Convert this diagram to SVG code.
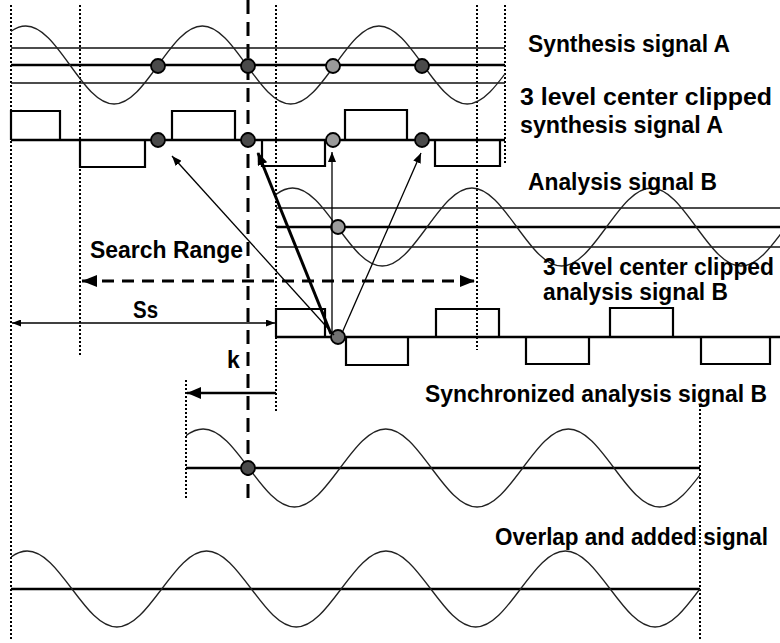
<svg xmlns="http://www.w3.org/2000/svg" width="780" height="643" viewBox="0 0 780 643">
<style>
.sine{fill:none;stroke:#222;stroke-width:1.3}
.ref{fill:none;stroke:#111;stroke-width:1.6}
.ctr{fill:none;stroke:#000;stroke-width:2.6}
.sq{fill:none;stroke:#000;stroke-width:2.2}
.dot{fill:none;stroke:#000;stroke-width:2;stroke-dasharray:2 2}
.dash{fill:none;stroke:#000;stroke-width:3;stroke-dasharray:14 8}
.pt{stroke:#000;stroke-width:1.8}
.dk{fill:#4a4a4a}
.lt{fill:#9a9a9a}
.md{fill:#707070}
.lbl{font-family:"Liberation Sans",Arial,Helvetica,sans-serif;font-weight:bold;font-size:23px;fill:#000}
.thin{fill:none;stroke:#000;stroke-width:1.3}
</style>
<defs>
<clipPath id="cA"><rect x="11" y="0" width="494" height="140"/></clipPath>
<clipPath id="cB"><rect x="276" y="150" width="504" height="140"/></clipPath>
<clipPath id="cS"><rect x="186" y="410" width="514" height="110"/></clipPath>
<clipPath id="cO"><rect x="11" y="530" width="689" height="110"/></clipPath>
<marker id="ah" viewBox="0 0 10 8" markerWidth="10" markerHeight="8" refX="10" refY="4" orient="auto" markerUnits="userSpaceOnUse"><path d="M0,0L10,4L0,8z" fill="#000"/></marker>
<marker id="ahT" viewBox="0 0 13 10" markerWidth="13" markerHeight="10" refX="12" refY="5" orient="auto" markerUnits="userSpaceOnUse"><path d="M0,0L13,5L0,10z" fill="#000"/></marker>
<marker id="ahS" viewBox="0 0 9 7" markerWidth="9" markerHeight="7" refX="9" refY="3.5" orient="auto-start-reverse" markerUnits="userSpaceOnUse"><path d="M0,0L9,3.5L0,7z" fill="#000"/></marker>
<marker id="ahB" viewBox="0 0 15 12" markerWidth="15" markerHeight="12" refX="15" refY="6" orient="auto-start-reverse" markerUnits="userSpaceOnUse"><path d="M0,0L15,6L0,12z" fill="#000"/></marker>
<marker id="ahK" viewBox="0 0 14 12" markerWidth="14" markerHeight="12" refX="14" refY="6" orient="auto" markerUnits="userSpaceOnUse"><path d="M0,0L14,6L0,12z" fill="#000"/></marker>
</defs>
<rect width="780" height="643" fill="#fff"/>

<g id="guides">
<line class="dot" x1="11" y1="5" x2="11" y2="640"/>
<line class="dot" x1="80" y1="5" x2="80" y2="355"/>
<line class="dot" x1="276" y1="5" x2="276" y2="412"/>
<line class="dot" x1="477" y1="5" x2="477" y2="350"/>
<line class="dot" x1="505" y1="5" x2="505" y2="165"/>
<line class="dot" x1="186" y1="380" x2="186" y2="500"/>
<line class="dot" x1="700" y1="405" x2="700" y2="640"/>
<line class="dash" x1="248" y1="0" x2="248" y2="505"/>
</g>

<g id="synthesis-signal-A">
<line class="ref" x1="11" y1="48" x2="505" y2="48"/>
<line class="ctr" x1="11" y1="65" x2="505" y2="65"/>
<line class="ref" x1="11" y1="83" x2="505" y2="83"/>
<path class="sine" clip-path="url(#cA)" d="M-18.4,65 c14.4,-20 28.17,-39 44.15,-39 c15.98,0 29.75,19 44.15,39 c14.4,20 28.17,39 44.15,39 c15.98,0 29.75,-19 44.15,-39 c14.4,-20 28.17,-39 44.15,-39 c15.98,0 29.75,19 44.15,39 c14.4,20 28.17,39 44.15,39 c15.98,0 29.75,-19 44.15,-39 c14.4,-20 28.17,-39 44.15,-39 c15.98,0 29.75,19 44.15,39 c14.4,20 28.17,39 44.15,39 c15.98,0 29.75,-19 44.15,-39"/>
<circle class="pt dk" cx="158" cy="66" r="7"/>
<circle class="pt dk" cx="248" cy="66" r="7"/>
<circle class="pt lt" cx="333" cy="66" r="7"/>
<circle class="pt dk" cx="422" cy="66" r="7"/>
</g>

<g id="clipped-A">
<line class="ctr" x1="11" y1="140" x2="505" y2="140"/>
<path class="sq" d="M11,140V111H60V140 M80,140V167H145V140 M172,140V111H235V140 M262,140V166H325V140 M345,140V110H407V140 M435,140V166H500V140"/>
<circle class="pt dk" cx="158" cy="140" r="7"/>
<circle class="pt dk" cx="248" cy="140" r="7"/>
<circle class="pt lt" cx="333" cy="140" r="7"/>
<circle class="pt dk" cx="422" cy="140" r="7"/>
</g>

<g id="analysis-signal-B">
<line class="ref" x1="276" y1="208" x2="780" y2="208"/>
<line class="ctr" x1="276" y1="227" x2="780" y2="227"/>
<line class="ref" x1="276" y1="247" x2="780" y2="247"/>
<path class="sine" clip-path="url(#cB)" d="M247.7,227 c14.63,-20 28.62,-39 44.85,-39 c16.23,0 30.22,19 44.85,39 c14.63,20 28.62,39 44.85,39 c16.23,0 30.22,-19 44.85,-39 c14.63,-20 28.62,-39 44.85,-39 c16.23,0 30.22,19 44.85,39 c14.63,20 28.62,39 44.85,39 c16.23,0 30.22,-19 44.85,-39 c14.63,-20 28.62,-39 44.85,-39 c16.23,0 30.22,19 44.85,39 c14.63,20 28.62,39 44.85,39 c16.23,0 30.22,-19 44.85,-39"/>
<circle class="pt lt" cx="338" cy="227" r="7"/>
</g>

<g id="clipped-B">
<line class="ctr" x1="276" y1="337" x2="780" y2="337"/>
<path class="sq" d="M276,337V309H325V337 M346,337V365H408V337 M436,337V309H499V337 M526,337V364H589V337 M610,337V308H673V337 M701,337V364H770V337"/>
<circle class="pt md" cx="338" cy="337" r="7"/>
</g>

<g id="synchronized-B">
<line class="ctr" x1="186" y1="468" x2="700" y2="468"/>
<path class="sine" clip-path="url(#cS)" d="M157.5,468 c14.89,-20 29.13,-39 45.65,-39 c16.52,0 30.76,19 45.65,39 c14.89,20 29.13,39 45.65,39 c16.52,0 30.76,-19 45.65,-39 c14.89,-20 29.13,-39 45.65,-39 c16.52,0 30.76,19 45.65,39 c14.89,20 29.13,39 45.65,39 c16.52,0 30.76,-19 45.65,-39 c14.89,-20 29.13,-39 45.65,-39 c16.52,0 30.76,19 45.65,39 c14.89,20 29.13,39 45.65,39 c16.52,0 30.76,-19 45.65,-39"/>
<circle class="pt dk" cx="248" cy="468" r="7"/>
</g>

<g id="overlap-added">
<line class="ctr" x1="11" y1="589" x2="700" y2="589"/>
<path class="sine" clip-path="url(#cO)" d="M-17.7,589 c14.63,-19.47 28.62,-38 44.85,-38 c16.23,0 30.22,18.53 44.85,38 c14.63,19.47 28.62,38 44.85,38 c16.23,0 30.22,-18.53 44.85,-38 c14.63,-19.47 28.62,-38 44.85,-38 c16.23,0 30.22,18.53 44.85,38 c14.63,19.47 28.62,38 44.85,38 c16.23,0 30.22,-18.53 44.85,-38 c14.63,-19.47 28.62,-38 44.85,-38 c16.23,0 30.22,18.53 44.85,38 c14.63,19.47 28.62,38 44.85,38 c16.23,0 30.22,-18.53 44.85,-38 c14.63,-19.47 28.62,-38 44.85,-38 c16.23,0 30.22,18.53 44.85,38 c14.63,19.47 28.62,38 44.85,38 c16.23,0 30.22,-18.53 44.85,-38"/>
</g>

<g id="connectors">
<line class="thin" x1="334" y1="335" x2="172" y2="156" marker-end="url(#ah)"/>
<line x1="331" y1="334" x2="258" y2="153" stroke="#000" stroke-width="3" marker-end="url(#ahT)"/>
<line class="thin" x1="332" y1="333" x2="332" y2="152" marker-end="url(#ah)"/>
<line class="thin" x1="342" y1="333" x2="421" y2="153" marker-end="url(#ah)"/>
<line x1="82" y1="281" x2="475" y2="281" stroke="#000" stroke-width="3" stroke-dasharray="12 8" marker-start="url(#ahB)" marker-end="url(#ahB)"/>
<line x1="12" y1="323" x2="275" y2="323" stroke="#000" stroke-width="1.4" marker-start="url(#ahS)" marker-end="url(#ahS)"/>
<line x1="276" y1="393" x2="187" y2="393" stroke="#000" stroke-width="2.5" marker-end="url(#ahK)"/>
</g>

<g id="labels">
<text class="lbl" x="528" y="52" textLength="202" lengthAdjust="spacingAndGlyphs">Synthesis signal A</text>
<text class="lbl" x="520" y="105" textLength="252" lengthAdjust="spacingAndGlyphs">3 level center clipped</text>
<text class="lbl" x="520" y="133" textLength="203" lengthAdjust="spacingAndGlyphs">synthesis signal A</text>
<text class="lbl" x="528" y="190" textLength="189" lengthAdjust="spacingAndGlyphs">Analysis signal B</text>
<text class="lbl" x="543" y="275" textLength="231" lengthAdjust="spacingAndGlyphs">3 level center clipped</text>
<text class="lbl" x="543" y="300" textLength="185" lengthAdjust="spacingAndGlyphs">analysis signal B</text>
<text class="lbl" x="90" y="258" textLength="153" lengthAdjust="spacingAndGlyphs">Search Range</text>
<text class="lbl" x="133" y="318" textLength="25" lengthAdjust="spacingAndGlyphs">Ss</text>
<text class="lbl" x="227" y="368">k</text>
<text class="lbl" x="425" y="402" textLength="342" lengthAdjust="spacingAndGlyphs">Synchronized analysis signal B</text>
<text class="lbl" x="495" y="545" textLength="273" lengthAdjust="spacingAndGlyphs">Overlap and added signal</text>
</g>
</svg>
